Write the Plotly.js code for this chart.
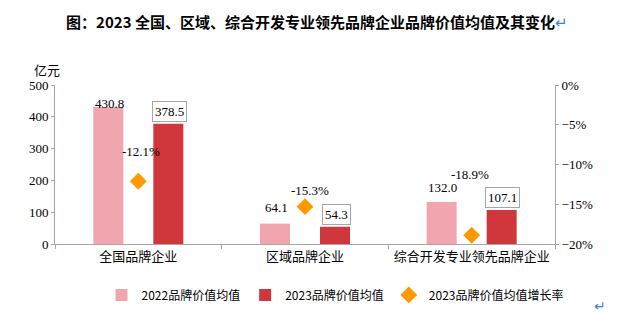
<!DOCTYPE html>
<html>
<head>
<meta charset="utf-8">
<script src="https://cdn.plot.ly/plotly-3.0.1.min.js"></script>
<style>html,body{margin:0;padding:0;background:#fff;}#chart{width:619px;height:325px;}</style>
</head>
<body>
<div id="chart"></div>
<script>
// ---- data ----
var categories = ['全国品牌企业', '区域品牌企业', '综合开发专业领先品牌企业'];
var value2022 = [430.8, 64.1, 132.0];
var value2023 = [378.5, 54.3, 107.1];
var growth2023 = [-0.121, -0.153, -0.189];
var seriesNames = ['2022品牌价值均值', '2023品牌价值均值', '2023品牌价值均值增长率'];
var leftTicks = [0, 100, 200, 300, 400, 500];
var rightTicks = [-0.20, -0.15, -0.10, -0.05, 0];

// ---- styles ----
var pinkColor = '#F0A5AF';
var redColor = '#D0373D';
var orangeColor = '#FF9900';
var axisColor = '#A6A6A6';
var serif = 'Liberation Serif, Times New Roman, serif';
var cjk = 'Noto Sans CJK SC, sans-serif';
var pinkLabelShift = [4, 16, 15];       // px above bar top (label centre)
var growthLabelShift = [30, 16, 61];    // px above diamond
var growthLabelXShift = [3, 5, -2];

var traces = [
  {
    type: 'bar', name: seriesNames[0], x: categories, y: value2022,
    marker: {color: pinkColor}, width: 0.18, offset: -0.27,
    hoverinfo: 'none'
  },
  {
    type: 'bar', name: seriesNames[1], x: categories, y: value2023,
    marker: {color: redColor}, width: 0.18, offset: 0.09,
    hoverinfo: 'none'
  },
  {
    type: 'scatter', mode: 'markers', name: seriesNames[2], x: categories, y: growth2023,
    yaxis: 'y2',
    marker: {symbol: 'diamond', size: 13, color: orangeColor},
    hoverinfo: 'none'
  }
];

var annotations = [];
categories.forEach(function (c, i) {
  annotations.push({
    x: c, y: value2022[i], xref: 'x', yref: 'y', xshift: -29,
    yshift: pinkLabelShift[i], yanchor: 'middle',
    text: value2022[i].toFixed(1), showarrow: false,
    font: {family: serif, size: 13, color: '#000'}
  });
  annotations.push({
    x: c, y: value2023[i], xref: 'x', yref: 'y', xshift: 31,
    yshift: 2, yanchor: 'bottom',
    text: value2023[i].toFixed(1), showarrow: false,
    bgcolor: '#FFFFFF', bordercolor: '#A6A6A6', borderwidth: 1, borderpad: 2,
    font: {family: serif, size: 13, color: '#000'}
  });
  annotations.push({
    x: c, y: growth2023[i], xref: 'x', yref: 'y2', xshift: growthLabelXShift[i],
    yshift: growthLabelShift[i], yanchor: 'middle',
    text: (growth2023[i] * 100).toFixed(1) + '%', showarrow: false,
    font: {family: serif, size: 13, color: '#000'}
  });
});
annotations.push({
  x: -0.016, y: 1.0, xref: 'paper', yref: 'paper', xanchor: 'center', yanchor: 'bottom',
  yshift: 4, text: '亿元', showarrow: false, font: {family: cjk, size: 13, color: '#000'}
});
annotations.push({
  x: 1.09, y: -0.39, xref: 'paper', yref: 'paper', xanchor: 'center', yanchor: 'middle',
  text: '↵', showarrow: false, font: {family: 'DejaVu Sans', size: 14, color: '#3C7FD8'}
});

var layout = {
  width: 619, height: 325,
  margin: {l: 55, r: 64, t: 85, b: 81},
  paper_bgcolor: '#FFFFFF', plot_bgcolor: '#FFFFFF',
  title: {
    text: '<b>图：2023 全国、区域、综合开发专业领先品牌企业品牌价值均值及其变化</b><span style="color:#3C7FD8">↵</span>',
    font: {family: cjk, size: 15, color: '#000'},
    x: 0.524, xref: 'paper', xanchor: 'center', y: 0.93, yanchor: 'middle'
  },
  showlegend: true,
  legend: {
    orientation: 'h', x: 0.56, xanchor: 'center', y: -0.32, yanchor: 'middle',
    font: {family: cjk, size: 12, color: '#000'}, itemwidth: 30,
    traceorder: 'normal', bgcolor: 'rgba(0,0,0,0)'
  },
  xaxis: {
    type: 'category', range: [-0.5, 2.5],
    showline: true, linecolor: axisColor, linewidth: 1,
    ticks: 'outside', tickson: 'boundaries', ticklen: 4, tickcolor: axisColor,
    showgrid: false, zeroline: false,
    tickfont: {family: cjk, size: 13, color: '#000'}
  },
  yaxis: {
    range: [0, 500], tickvals: leftTicks,
    showline: true, linecolor: axisColor, linewidth: 1,
    ticks: 'outside', ticklen: 3, tickcolor: axisColor,
    showgrid: false, zeroline: false,
    tickfont: {family: serif, size: 13, color: '#000'}
  },
  yaxis2: {
    overlaying: 'y', side: 'right', range: [-0.2, 0], tickvals: rightTicks,
    tickformat: '.0%',
    showline: true, linecolor: axisColor, linewidth: 1,
    ticks: 'outside', ticklen: 3, tickcolor: axisColor,
    showgrid: false, zeroline: false,
    tickfont: {family: serif, size: 13, color: '#000'}
  },
  annotations: annotations
};

Plotly.newPlot('chart', traces, layout, {staticPlot: true, displayModeBar: false});
</script>
</body>
</html>
